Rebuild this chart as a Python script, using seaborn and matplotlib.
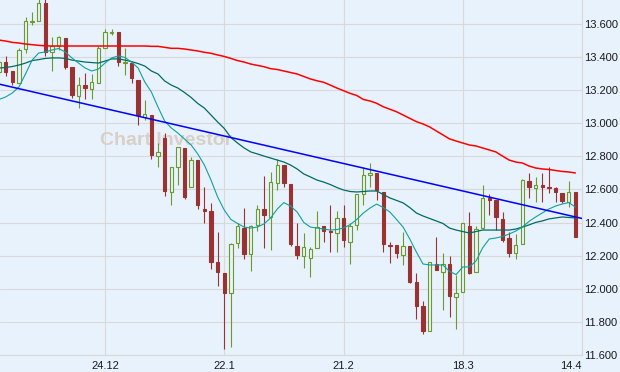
import numpy as np
import pandas as pd
import matplotlib
matplotlib.use("Agg")
import matplotlib.pyplot as plt
import seaborn as sns

# daily candles (price units)
opens = [13.310, 13.370, 13.316, 13.244, 13.449, 13.610, 13.618, 13.727, 13.431, 13.467,
         13.515, 13.340, 13.165, 13.231, 13.207, 13.244, 13.455, 13.546, 13.552, 13.364,
         13.364, 13.262, 13.038, 13.050, 12.802, 12.911, 12.585, 12.736, 12.851, 12.615,
         12.778, 12.482, 12.470, 12.162, 12.096, 11.975, 12.277, 12.367, 12.210, 12.386,
         12.482, 12.434, 12.639, 12.748, 12.633, 12.259, 12.198, 12.186, 12.247, 12.380,
         12.349, 12.337, 12.428, 12.283, 12.386, 12.573, 12.688, 12.700, 12.585, 12.265,
         12.265, 12.204, 12.259, 12.041, 11.896, 11.745, 12.150, 12.102, 12.150, 11.951,
         11.981, 12.380, 12.102, 12.367, 12.549, 12.537, 12.422, 12.307, 12.216, 12.271,
         12.651, 12.609, 12.627, 12.615, 12.609, 12.579, 12.525, 12.585]
highs = [13.390, 13.407, 13.316, 13.455, 13.642, 13.673, 13.760, 13.750, 13.521, 13.527,
         13.515, 13.340, 13.280, 13.304, 13.298, 13.467, 13.570, 13.570, 13.552, 13.455,
         13.364, 13.262, 13.141, 13.050, 12.881, 12.941, 12.736, 12.857, 12.851, 12.796,
         12.778, 12.615, 12.519, 12.343, 12.096, 12.277, 12.398, 12.488, 12.386, 12.506,
         12.682, 12.706, 12.784, 12.748, 12.633, 12.398, 12.337, 12.253, 12.470, 12.380,
         12.506, 12.470, 12.506, 12.398, 12.573, 12.736, 12.760, 12.700, 12.585, 12.283,
         12.265, 12.343, 12.259, 12.096, 11.926, 12.162, 12.313, 12.216, 12.198, 12.084,
         12.398, 12.464, 12.380, 12.627, 12.573, 12.537, 12.464, 12.343, 12.331, 12.663,
         12.700, 12.676, 12.700, 12.736, 12.615, 12.579, 12.651, 12.585]
lows = [13.290, 13.286, 13.231, 13.244, 13.425, 13.594, 13.618, 13.407, 13.316, 13.443,
        13.328, 13.153, 13.092, 13.147, 13.147, 13.244, 13.455, 13.534, 13.346, 13.292,
        13.244, 12.990, 13.020, 12.784, 12.736, 12.561, 12.506, 12.627, 12.543, 12.615,
        12.482, 12.398, 12.120, 12.017, 11.636, 11.648, 12.247, 12.180, 12.108, 12.349,
        12.247, 12.234, 12.597, 12.615, 12.259, 12.180, 12.126, 12.071, 12.247, 12.283,
        12.222, 12.222, 12.253, 12.150, 12.355, 12.506, 12.615, 12.537, 12.222, 12.156,
        12.186, 12.144, 12.035, 11.818, 11.727, 11.745, 12.114, 11.872, 11.830, 11.757,
        11.981, 12.090, 12.102, 12.361, 12.446, 12.355, 12.283, 12.192, 12.180, 12.271,
        12.549, 12.525, 12.525, 12.579, 12.525, 12.519, 12.494, 12.313]
closes = [13.370, 13.310, 13.250, 13.443, 13.618, 13.618, 13.727, 13.431, 13.467, 13.521,
          13.340, 13.171, 13.231, 13.213, 13.250, 13.455, 13.552, 13.552, 13.370, 13.370,
          13.274, 13.050, 13.056, 12.809, 12.827, 12.591, 12.736, 12.857, 12.555, 12.778,
          12.506, 12.470, 12.162, 12.102, 11.975, 12.271, 12.380, 12.210, 12.380, 12.482,
          12.446, 12.645, 12.748, 12.639, 12.271, 12.204, 12.253, 12.241, 12.374, 12.349,
          12.343, 12.428, 12.295, 12.380, 12.573, 12.688, 12.700, 12.597, 12.271, 12.259,
          12.216, 12.259, 12.041, 11.896, 11.745, 12.162, 12.114, 12.150, 11.957, 11.975,
          12.398, 12.096, 12.361, 12.549, 12.537, 12.434, 12.295, 12.216, 12.265, 12.657,
          12.615, 12.627, 12.615, 12.609, 12.585, 12.531, 12.585, 12.313]

# moving averages as drawn on the chart
ma_slow = [13.503, 13.497, 13.489, 13.485, 13.479, 13.475, 13.471, 13.468, 13.467, 13.467,
           13.467, 13.467, 13.467, 13.467, 13.467, 13.467, 13.467, 13.467, 13.467, 13.467,
           13.467, 13.467, 13.467, 13.465, 13.465, 13.459, 13.453, 13.453, 13.449, 13.443,
           13.437, 13.429, 13.423, 13.413, 13.404, 13.392, 13.379, 13.370, 13.358, 13.350,
           13.342, 13.330, 13.325, 13.316, 13.307, 13.298, 13.283, 13.268, 13.257, 13.248,
           13.231, 13.213, 13.197, 13.181, 13.168, 13.144, 13.135, 13.121, 13.100, 13.085,
           13.070, 13.050, 13.030, 13.010, 12.996, 12.978, 12.954, 12.930, 12.906, 12.893,
           12.881, 12.869, 12.863, 12.851, 12.839, 12.827, 12.802, 12.778, 12.766, 12.760,
           12.742, 12.730, 12.724, 12.721, 12.715, 12.709, 12.706, 12.700]
ma_mid = [13.334, 13.337, 13.343, 13.352, 13.364, 13.379, 13.385, 13.392, 13.395, 13.395,
          13.392, 13.382, 13.376, 13.370, 13.367, 13.364, 13.376, 13.389, 13.389, 13.382,
          13.373, 13.361, 13.346, 13.316, 13.298, 13.256, 13.231, 13.213, 13.186, 13.156,
          13.120, 13.092, 13.050, 13.008, 12.969, 12.914, 12.881, 12.851, 12.827, 12.815,
          12.802, 12.790, 12.778, 12.766, 12.748, 12.724, 12.694, 12.676, 12.657, 12.645,
          12.630, 12.612, 12.597, 12.588, 12.585, 12.588, 12.591, 12.591, 12.570, 12.549,
          12.534, 12.519, 12.491, 12.458, 12.440, 12.425, 12.410, 12.395, 12.367, 12.355,
          12.346, 12.337, 12.346, 12.355, 12.355, 12.355, 12.355, 12.355, 12.361, 12.373,
          12.386, 12.401, 12.410, 12.422, 12.428, 12.434, 12.431, 12.428]
ma_fast = [13.144, 13.159, 13.183, 13.219, 13.298, 13.382, 13.425, 13.431, 13.443, 13.452,
           13.431, 13.395, 13.364, 13.334, 13.316, 13.328, 13.364, 13.395, 13.407, 13.398,
           13.370, 13.334, 13.250, 13.189, 13.098, 13.014, 12.972, 12.941, 12.905, 12.869,
           12.815, 12.748, 12.657, 12.555, 12.476, 12.419, 12.395, 12.373, 12.367, 12.373,
           12.392, 12.428, 12.482, 12.521, 12.500, 12.464, 12.401, 12.373, 12.367, 12.361,
           12.355, 12.358, 12.367, 12.388, 12.419, 12.458, 12.488, 12.512, 12.491, 12.464,
           12.419, 12.373, 12.301, 12.222, 12.150, 12.144, 12.144, 12.144, 12.105, 12.086,
           12.132, 12.132, 12.168, 12.247, 12.301, 12.307, 12.316, 12.331, 12.349, 12.373,
           12.407, 12.434, 12.458, 12.482, 12.500, 12.512, 12.521, 12.494]

# trend line anchors (candle index, price)
trend_x = [0, 88]
trend_y = [13.237, 12.425]

tick_pos = [16, 34, 52, 70, 88]
tick_labels = ['24.12', '22.1', '21.2', '18.3', '14.4']
price_ticks = [11.6, 11.8, 12.0, 12.2, 12.4, 12.6, 12.8, 13.0, 13.2, 13.4, 13.6]

bg = '#e8f2fc'
grid_col = '#d9d9d9'
up_col = '#6a9a2a'
down_col = '#993333'

sns.set_style("whitegrid", rc={'axes.facecolor': bg, 'figure.facecolor': bg,
                               'grid.color': grid_col, 'axes.edgecolor': grid_col})
plt.rcParams['font.family'] = ['Liberation Sans', 'DejaVu Sans']

df = pd.DataFrame({'open': opens, 'high': highs, 'low': lows, 'close': closes,
                   'slow': ma_slow, 'mid': ma_mid, 'fast': ma_fast})
df['idx'] = np.arange(len(df))
df['up'] = df['close'] >= df['open']

fig, ax = plt.subplots(figsize=(6.2, 3.72), dpi=100)
fig.subplots_adjust(left=0, right=582/620, bottom=1-355/372, top=1)

ax.text(0.286, 0.603, 'Chart Investor', transform=ax.transAxes, ha='center', va='center',
        fontsize=14, fontweight='bold', color='#d8d0c6', zorder=1)

# candles: wick first, then body (hollow for up days)
for _, r in df.iterrows():
    col = up_col if r['up'] else down_col
    ax.vlines(r['idx'], r['low'], r['high'], color=col, linewidth=0.8, zorder=2)
    lo = min(r['open'], r['close'])
    h = max(abs(r['close'] - r['open']), 0.004)
    ax.bar(r['idx'], h, bottom=lo, width=0.5, color=bg if r['up'] else down_col,
           edgecolor=col, linewidth=0.8, zorder=3)

sns.lineplot(data=df, x='idx', y='slow', color='#ff0000', linewidth=1.1, ax=ax, zorder=4)
sns.lineplot(data=df, x='idx', y='mid', color='#006b63', linewidth=0.9, ax=ax, zorder=4)
sns.lineplot(data=df, x='idx', y='fast', color='#119f9f', linewidth=0.8, ax=ax, zorder=4)
sns.lineplot(x=trend_x, y=trend_y, color='#0000ff', linewidth=1.1, ax=ax, zorder=4)

ax.set_xlim(0.15, 88)
ax.set_ylim(11.6, 13.745)
ax.set_xticks(tick_pos)
ax.set_xticklabels(tick_labels)
ax.get_xticklabels()[-1].set_ha('right')
ax.set_yticks(price_ticks)
ax.set_yticklabels(['%.3f' % v for v in price_ticks])
ax.yaxis.tick_right()
ax.tick_params(length=0, labelsize=8, colors='#1a1a1a')
ax.tick_params(axis='y', pad=1.5)
ax.tick_params(axis='x', pad=4)
ax.grid(True, color=grid_col, linewidth=0.8)
ax.set_axisbelow(True)
ax.set_xlabel('')
ax.set_ylabel('')
for s in ['top', 'left']:
    ax.spines[s].set_visible(False)
for s in ['right', 'bottom']:
    ax.spines[s].set_color(grid_col)
    ax.spines[s].set_linewidth(0.9)

fig.savefig('out.png', dpi=100, facecolor=bg)
